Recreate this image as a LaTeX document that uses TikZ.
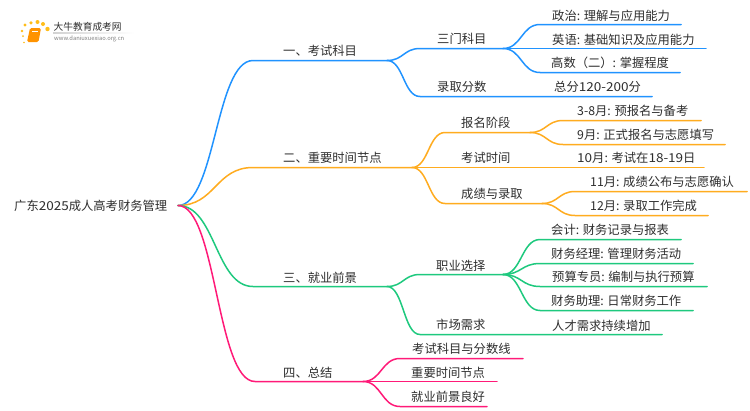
\documentclass[tikz,border=0pt]{standalone}
\usepackage{fontspec}
\setmainfont{Noto Sans CJK SC}
\newfontfamily\widedigits[FakeStretch=1.1]{Noto Sans CJK SC}
\usetikzlibrary{calc}
\definecolor{cblue}{HTML}{2093FF}
\definecolor{corange}{HTML}{FFAC1F}
\definecolor{cgreen}{HTML}{1EC97E}
\definecolor{cpink}{HTML}{FF1A78}
\definecolor{ctext}{HTML}{2E2E2E}
\tikzset{
  lbl/.style={anchor=west,inner sep=0pt,yshift=-0.8pt,text=ctext,font=\fontsize{12.3}{14}\selectfont},
  wire/.style={line width=1.5pt,line cap=round},
  link/.style={to path={let \p1=(\tikztostart),\p2=(\tikztotarget),\n1={0.5*(\x1+\x2)} in .. controls (\n1,\y1) and (\n1,\y2) .. (\tikztotarget)}},
}
% name, flat start x, flat end x, line y, text x, text y, text
\newcommand{\branch}[7]{%
  \coordinate (#1s) at (#2,#4+0.5);
  \coordinate (#1e) at (#3,#4+0.5);
  \node[lbl] (#1) at (#5,#6) {#7};
}
% colour, parent end, child
\newcommand{\wireto}[3]{\draw[wire,#1] (#2) to[link] (#3s) -- (#3e);}
\begin{document}
\begin{tikzpicture}[x=1pt,y=-1pt]
\useasboundingbox (0,0) rectangle (750,410);
\fill[white] (0,0) rectangle (750,410);
% logo
\foreach \px/\py/\pr in {25/25/1.6,31/22.8/1.8,37.5/22/2,43/24/2,47.5/29/2.2,22/31/1.3,23/36/1,24/42.5/0.9}
  \fill[corange!80!yellow] (\px,\py) circle (\pr);
\fill[orange!85!yellow,rounded corners=1.5pt] (30,28) -- (41,28) -- (38.5,42) -- (27,42) -- cycle;
\draw[white,line width=0.5pt] (32,31) -- (38,31);
\node[lbl,yshift=0.8pt,font=\fontsize{9.7}{11}\selectfont] (logoa) at (53.5,27) {大牛教育成考网};
\node[lbl,yshift=0.8pt,text=gray,font=\fontsize{5.8}{7}\selectfont] (logob) at (54,38.5) {www.daniuxuexiao.org.cn};
\shade[left color=gray!35,right color=white] (53,32.8) rectangle (134,33.4);
% root
\node[lbl] (root) at (14,205) {广东{\widedigits 2025}成人高考财务管理};
\coordinate (rootj) at (178,205.5);
% level one
\branch{a}{253}{387}{60}{283}{50}{一、考试科目}
\branch{b}{253}{412}{167}{283}{157}{二、重要时间节点}
\branch{c}{253}{387}{286}{283}{277}{三、就业前景}
\branch{d}{255}{363}{381}{283}{372}{四、总结}
% blue
\branch{a1}{420}{503}{48}{437}{38}{三门科目}
\branch{a2}{420}{652}{96}{437}{86}{录取分数}
\branch{a1x}{540}{681}{24}{552}{15}{政治: 理解与应用能力}
\branch{a1y}{540}{706}{48}{552}{39}{英语: 基础知识及应用能力}
\branch{a1z}{540}{680}{72}{551}{62}{高数（二）: 掌握程度}
\node[lbl] (a2t) at (554,86) {总分{\widedigits 120-200}分};
% orange
\branch{b1}{445}{530}{132}{461}{122}{报名阶段}
\branch{b2}{445}{704}{167}{461}{157}{考试时间}
\branch{b3}{445}{542}{203}{461}{193}{成绩与录取}
\branch{b1x}{563}{701}{120}{577}{110}{3-8月: 预报名与备考}
\branch{b1y}{563}{725}{144}{577}{134}{9月: 正式报名与志愿填写}
\node[lbl] (b2t) at (577,157) {{\widedigits 10}月: 考试在{\widedigits 18-19}日};
\branch{b3x}{575}{747}{191}{590}{181}{11月: 成绩公布与志愿确认}
\branch{b3y}{575}{708}{215}{590}{205}{12月: 录取工作完成}
% green
\branch{c1}{420}{503}{274}{436}{265}{职业选择}
\branch{c2}{420}{662}{334}{436}{324}{市场需求}
\branch{c1w}{540}{681}{239}{551}{229}{会计: 财务记录与报表}
\branch{c1x}{540}{693}{263}{551}{253}{财务经理: 管理财务活动}
\branch{c1y}{540}{707}{286}{552}{276}{预算专员: 编制与执行预算}
\branch{c1z}{540}{693}{310}{551}{300}{财务助理: 日常财务工作}
\node[lbl] (c2t) at (552,325) {人才需求持续增加};
% pink
\branch{d1}{400}{523}{358}{412}{348}{考试科目与分数线}
\branch{d2}{400}{497}{381}{411}{372}{重要时间节点}
\branch{d3}{400}{487}{406}{411}{396}{就业前景良好}
% connectors
\wireto{cblue}{rootj}{a}
\wireto{corange}{rootj}{b}
\wireto{cgreen}{rootj}{c}
\wireto{cpink}{rootj}{d}
\wireto{cblue}{ae}{a1}
\wireto{cblue}{ae}{a2}
\wireto{cblue}{a1e}{a1x}
\wireto{cblue}{a1e}{a1y}
\wireto{cblue}{a1e}{a1z}
\wireto{corange}{be}{b1}
\wireto{corange}{be}{b2}
\wireto{corange}{be}{b3}
\wireto{corange}{b1e}{b1x}
\wireto{corange}{b1e}{b1y}
\wireto{corange}{b3e}{b3x}
\wireto{corange}{b3e}{b3y}
\wireto{cgreen}{ce}{c1}
\wireto{cgreen}{ce}{c2}
\wireto{cgreen}{c1e}{c1w}
\wireto{cgreen}{c1e}{c1x}
\wireto{cgreen}{c1e}{c1y}
\wireto{cgreen}{c1e}{c1z}
\wireto{cpink}{de}{d1}
\wireto{cpink}{de}{d2}
\wireto{cpink}{de}{d3}
\end{tikzpicture}
\end{document}
